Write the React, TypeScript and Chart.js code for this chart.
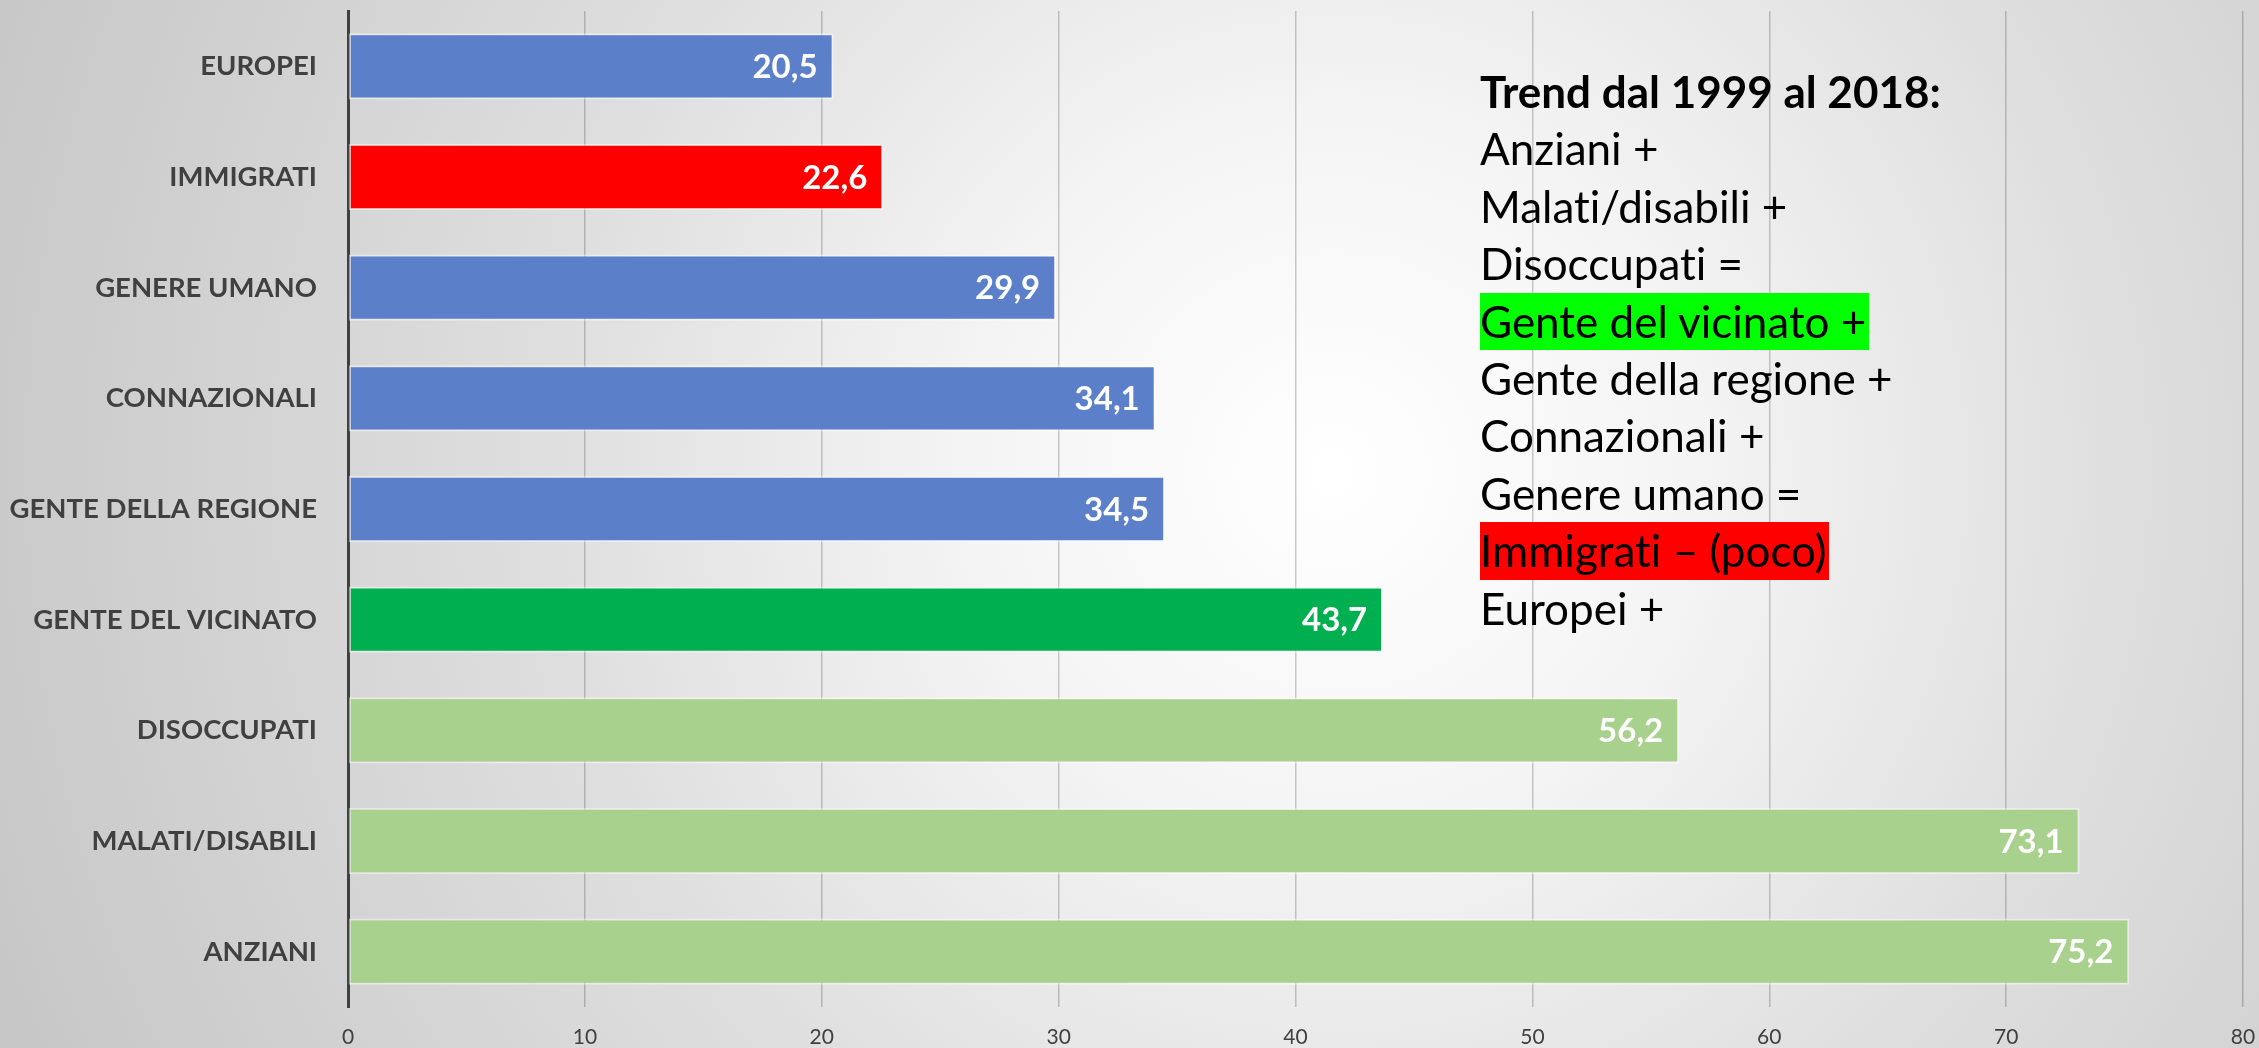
import React, { useEffect, useRef } from "react";
import { Chart, registerables } from "chart.js";

Chart.register(...registerables);

const categories = [
  "EUROPEI",
  "IMMIGRATI",
  "GENERE UMANO",
  "CONNAZIONALI",
  "GENTE DELLA REGIONE",
  "GENTE DEL VICINATO",
  "DISOCCUPATI",
  "MALATI/DISABILI",
  "ANZIANI",
];
const values = [20.5, 22.6, 29.9, 34.1, 34.5, 43.7, 56.2, 73.1, 75.2];
const barColors = [
  "#5B80C9",
  "#FF0000",
  "#5B80C9",
  "#5B80C9",
  "#5B80C9",
  "#00B050",
  "#A9D18E",
  "#A9D18E",
  "#A9D18E",
];
const xTicks = [0, 10, 20, 30, 40, 50, 60, 70, 80];

const trendTitle = "Trend dal 1999 al 2018:";
const trendLines = [
  { text: "Anziani +", bg: "" },
  { text: "Malati/disabili +", bg: "" },
  { text: "Disoccupati =", bg: "" },
  { text: "Gente del vicinato +", bg: "#00FF00" },
  { text: "Gente della regione +", bg: "" },
  { text: "Connazionali +", bg: "" },
  { text: "Genere umano =", bg: "" },
  { text: "Immigrati \u2013 (poco)", bg: "#FF0000" },
  { text: "Europei +", bg: "" },
];

const FONT = "Lato, 'Open Sans', sans-serif";

const dataLabelPlugin = {
  id: "dataLabels",
  afterDatasetsDraw(chart: any) {
    const ctx = chart.ctx;
    const meta = chart.getDatasetMeta(0);
    ctx.save();
    ctx.font = `bold 33px ${FONT}`;
    ctx.fillStyle = "#FFFFFF";
    ctx.textAlign = "right";
    ctx.textBaseline = "middle";
    meta.data.forEach((bar: any, i: number) => {
      const v = chart.data.datasets[0].data[i];
      ctx.fillText(String(v).replace(".", ","), bar.x - 16, bar.y + 1);
    });
    ctx.restore();
  },
};

export default function App() {
  const canvasRef = useRef<HTMLCanvasElement | null>(null);

  useEffect(() => {
    if (!canvasRef.current) return;
    const chart = new Chart(canvasRef.current, {
      type: "bar",
      data: {
        labels: categories,
        datasets: [
          {
            data: values,
            backgroundColor: barColors,
            borderColor: "rgba(255,255,255,0.45)",
            borderWidth: 2,
            borderSkipped: false,
            categoryPercentage: 1,
            barPercentage: 0.6,
          },
        ],
      },
      options: {
        indexAxis: "y",
        animation: false,
        responsive: false,
        maintainAspectRatio: false,
        layout: { padding: { top: 11, right: 16, left: 0, bottom: 0 } },
        plugins: {
          legend: { display: false },
          tooltip: { enabled: false },
          title: { display: false },
        },
        scales: {
          x: {
            type: "linear",
            min: 0,
            max: 80,
            afterBuildTicks(scale: any) {
              scale.ticks = xTicks.map((v) => ({ value: v }));
            },
            afterFit(scale: any) {
              scale.height = 41;
              scale.paddingLeft = 0;
              scale.paddingRight = 0;
            },
            grid: {
              color: "rgba(0,0,0,0.2)",
              lineWidth: 1.5,
              drawTicks: false,
            },
            border: { display: false },
            ticks: {
              padding: 18,
              color: "#404040",
              font: { family: FONT, size: 21 },
            },
          },
          y: {
            afterFit(scale: any) {
              scale.width = 348;
              scale.paddingTop = 0;
              scale.paddingBottom = 0;
            },
            grid: { display: false, drawTicks: false },
            border: { display: true, color: "#404040", width: 3 },
            ticks: {
              padding: 31,
              color: "#404040",
              font: { family: FONT, size: 27.5, weight: "bold" },
            },
          },
        },
      },
      plugins: [dataLabelPlugin],
    });
    return () => chart.destroy();
  }, []);

  const lineH = 57.4;

  return (
    <div
      style={{
        position: "fixed",
        left: 0,
        top: 0,
        width: 2259,
        height: 1048,
        overflow: "hidden",
        background:
          "radial-gradient(circle at 59% 45%, #ffffff 0%, #f4f4f4 25%, #dedede 55%, #c6c6c6 100%)",
      }}
    >
      <canvas
        ref={canvasRef}
        width={2259}
        height={1048}
        style={{ position: "absolute", left: 0, top: 0, width: 2259, height: 1048 }}
      />
      <div
        style={{
          position: "absolute",
          left: 1480,
          top: 63,
          fontFamily: FONT,
          fontSize: 44,
          color: "#000000",
          lineHeight: `${lineH}px`,
          whiteSpace: "nowrap",
          fontVariantLigatures: "none",
        }}
      >
        <div style={{ fontWeight: "bold", height: lineH }}>{trendTitle}</div>
        {trendLines.map((l, i) => (
          <div key={i} style={{ height: lineH }}>
            <span
              style={{
                display: "inline-block",
                height: lineH,
                background: l.bg || "transparent",
                paddingRight: l.bg ? 3 : 0,
              }}
            >
              {l.text}
            </span>
          </div>
        ))}
      </div>
    </div>
  );
}
